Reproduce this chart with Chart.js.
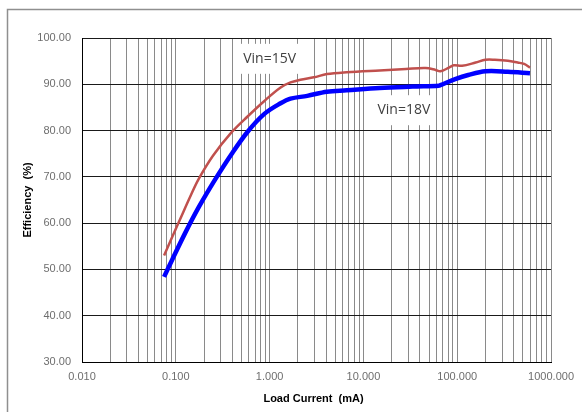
<!DOCTYPE html>
<html>
<head>
<meta charset="utf-8">
<title>Efficiency vs Load Current</title>
<script src="https://cdn.jsdelivr.net/npm/chart.js@4.4.1/dist/chart.umd.min.js"></script>
<style>
  html, body { margin: 0; padding: 0; background: #fff; }
  #wrap { position: relative; width: 582px; height: 412px; }
</style>
</head>
<body>
<div id="wrap"><canvas id="effChart" width="582" height="412"></canvas></div>
<script>
/* === Efficiency curves, log load axis === */

// Load current (mA) and efficiency (%) for Vin = 15V
var load15 = [0.075, 0.0915, 0.112, 0.143, 0.175, 0.25, 0.392, 0.586, 0.879, 1.31, 1.67, 2.13, 2.96, 4.08,
  6.62, 14.9, 28.4, 46, 58.7, 66, 81.6, 92.1, 112.7, 157, 200, 252, 346, 441, 516, 596];
var eff15 = [53.0, 57.0, 61.0, 65.8, 69.5, 74.6, 79.6, 83.1, 86.4, 89.3, 90.4, 91.0, 91.5, 92.2,
  92.6, 93.0, 93.3, 93.5, 93.1, 92.8, 93.6, 94.1, 94.0, 94.7, 95.3, 95.3, 95.1, 94.7, 94.4, 93.6];

// Load current (mA) and efficiency (%) for Vin = 18V
var load18 = [0.075, 0.0915, 0.126, 0.175, 0.262, 0.392, 0.586, 0.879, 1.31, 1.67, 2.52, 4.08,
  6.62, 14.9, 33.4, 63.6, 66, 95, 131, 200, 346, 596];
var eff18 = [48.4, 52.1, 57.9, 63.4, 69.4, 74.9, 79.8, 83.6, 85.9, 86.9, 87.5, 88.4,
  88.7, 89.2, 89.5, 89.7, 89.8, 91.1, 92.0, 92.8, 92.7, 92.4];

// Axis ranges and tick decades
var decades = [0.01, 0.1, 1, 10, 100, 1000];
var yMin = 30, yMax = 100, yStep = 10;

// Curve labels, placed in data coordinates
var curveLabels = [
  { text: 'Vin=15V', x: 1.0, y: 95.5 },
  { text: 'Vin=18V', x: 27, y: 84.4 }
];

function toPoints(xs, ys) {
  return xs.map(function (x, i) { return { x: x, y: ys[i] }; });
}

function minorTicks() {
  var out = [];
  decades.forEach(function (d, i) {
    if (i === decades.length - 1) { out.push(d); return; }
    for (var k = 1; k <= 9; k++) out.push(+(d * k).toPrecision(3));
  });
  return out;
}

function isDecade(v) {
  return decades.some(function (d) { return Math.abs(d - v) < d * 1e-6; });
}

var tickFont = { family: "'Liberation Sans', Arial, sans-serif", size: 11 };

// White boxes behind the curve labels hide the grid, then text on top
var labelPlugin = {
  id: 'curveLabels',
  beforeDatasetsDraw: function (chart) {
    var ctx = chart.ctx;
    var xs = chart.scales.x, ys = chart.scales.y;
    ctx.save();
    ctx.font = "14px 'Open Sans', sans-serif";
    ctx.textAlign = 'center';
    ctx.textBaseline = 'middle';
    curveLabels.forEach(function (l) {
      var px = xs.getPixelForValue(l.x);
      var py = ys.getPixelForValue(l.y);
      var w = ctx.measureText(l.text).width + 8;
      ctx.fillStyle = '#fff';
      ctx.fillRect(px - w / 2, py - 15, w, 30);
      ctx.fillStyle = '#404040';
      ctx.fillText(l.text, px, py);
    });
    ctx.restore();
  }
};

// Axis titles and the outer frame
var framePlugin = {
  id: 'frameTitles',
  afterDraw: function (chart) {
    var ctx = chart.ctx;
    var area = chart.chartArea;
    ctx.save();
    ctx.strokeStyle = '#8f8f8f';
    ctx.lineWidth = 1.5;
    ctx.beginPath();
    ctx.moveTo(7.5, 412);
    ctx.lineTo(7.5, 9.5);
    ctx.lineTo(582, 9.5);
    ctx.stroke();

    ctx.fillStyle = '#000';
    ctx.font = "bold 11px 'Liberation Sans', Arial, sans-serif";
    ctx.textAlign = 'center';
    ctx.textBaseline = 'middle';
    ctx.fillText('Load Current  (mA)', (area.left + area.right) / 2 - 3, 399);
    ctx.translate(28, (area.top + area.bottom) / 2);
    ctx.rotate(-Math.PI / 2);
    ctx.fillText('Efficiency  (%)', 0, 0);
    ctx.restore();
  }
};

new Chart(document.getElementById('effChart'), {
  type: 'line',
  data: {
    datasets: [{
      label: 'Vin=15V',
      data: toPoints(load15, eff15),
      borderColor: '#c0504d',
      borderWidth: 2.5,
      pointRadius: 0,
      tension: 0.35,
      fill: false
    }, {
      label: 'Vin=18V',
      data: toPoints(load18, eff18),
      borderColor: '#0000ff',
      borderWidth: 4.5,
      pointRadius: 0,
      tension: 0.35,
      fill: false
    }]
  },
  options: {
    responsive: false,
    animation: false,
    events: [],
    layout: { padding: { left: 0, top: 38, right: 25, bottom: 0 } },
    plugins: { legend: { display: false }, tooltip: { enabled: false } },
    scales: {
      x: {
        type: 'logarithmic',
        min: decades[0],
        max: decades[decades.length - 1],
        afterBuildTicks: function (scale) {
          scale.ticks = minorTicks().map(function (v) { return { value: v }; });
        },
        afterFit: function (scale) { scale.height = 50; },
        ticks: {
          autoSkip: false,
          maxRotation: 0,
          padding: 8,
          color: '#6e6e6e',
          font: tickFont,
          callback: function (v) { return isDecade(v) ? v.toFixed(3) : ''; }
        },
        grid: {
          drawTicks: false,
          color: function (c) { return c.index === 0 ? '#000' : '#8a8a8a'; },
          lineWidth: 1
        },
        border: { color: '#000', width: 1 }
      },
      y: {
        min: yMin,
        max: yMax,
        afterFit: function (scale) { scale.width = 82; },
        ticks: {
          stepSize: yStep,
          padding: 11,
          color: '#6e6e6e',
          font: tickFont,
          callback: function (v) { return v.toFixed(2); }
        },
        grid: { drawTicks: false, color: '#1a1a1a', lineWidth: 1 },
        border: { color: '#000', width: 1 }
      }
    }
  },
  plugins: [labelPlugin, framePlugin]
});
</script>
</body>
</html>
